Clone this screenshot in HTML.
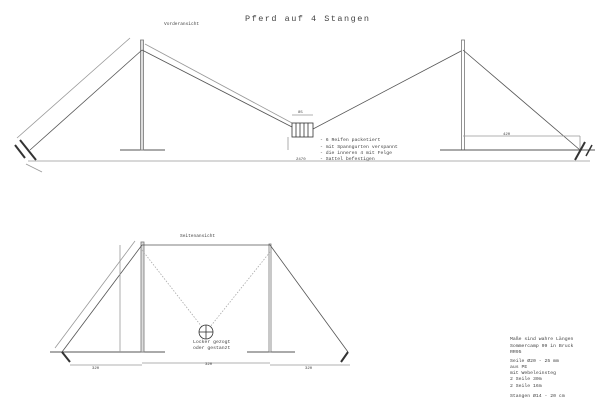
<!DOCTYPE html>
<html><head><style>
html,body{margin:0;padding:0;background:#fff;}
svg{display:block}
text{font-family:"Liberation Mono",monospace;fill:#444;}
</style></head><body>
<svg width="600" height="408" viewBox="0 0 600 408" xmlns="http://www.w3.org/2000/svg">
<g stroke="#555" fill="none" stroke-width="0.8">
<!-- top view -->
<line x1="120" y1="150" x2="165" y2="150" stroke-width="1"/>
<rect x="140.5" y="40" width="3" height="110" stroke="#777" fill="#ddd"/>
<line x1="142" y1="50" x2="30" y2="150"/>
<line x1="142" y1="50" x2="292" y2="127"/>
<line x1="145" y1="44" x2="292" y2="123" stroke="#999"/>
<line x1="130" y1="38" x2="17" y2="138" stroke="#999"/>
<line x1="313" y1="129" x2="463" y2="50"/>
<rect x="292" y="123" width="21" height="14" stroke="#333"/>
<g stroke="#333"><line x1="296" y1="123" x2="296" y2="137"/><line x1="300" y1="123" x2="300" y2="137"/><line x1="304" y1="123" x2="304" y2="137"/><line x1="308" y1="123" x2="308" y2="137"/></g>
<line x1="292" y1="115" x2="313" y2="115" stroke="#999"/>
<line x1="288" y1="137" x2="288" y2="150" stroke="#999"/>
<rect x="461.5" y="40" width="3" height="110" stroke="#777" fill="#fff"/>
<line x1="440" y1="150" x2="595" y2="150" stroke-width="1"/>
<line x1="463" y1="50" x2="580" y2="150"/>
<line x1="463" y1="136" x2="580" y2="136" stroke="#999"/>
<line x1="580" y1="136" x2="580" y2="150" stroke="#999"/>
<line x1="28" y1="161" x2="590" y2="161" stroke="#999"/>
<line x1="20" y1="140" x2="36" y2="160" stroke="#333" stroke-width="2"/>
<line x1="15" y1="145" x2="25" y2="158" stroke="#333" stroke-width="2"/>
<line x1="585" y1="142" x2="575" y2="160" stroke="#333" stroke-width="2"/>
<line x1="592" y1="145" x2="586" y2="156" stroke="#333" stroke-width="1.5"/>
<line x1="26" y1="164" x2="42" y2="172" stroke="#999"/>
<!-- side view -->
<line x1="50" y1="352" x2="165" y2="352" stroke-width="1"/>
<line x1="247" y1="352" x2="295" y2="352" stroke-width="1"/>
<rect x="141" y="242" width="3" height="110" stroke="#777" fill="#ddd"/>
<rect x="269" y="244" width="2" height="108" stroke="#777" fill="#fff"/>
<line x1="142" y1="245" x2="270" y2="245"/>
<line x1="142" y1="245" x2="62" y2="352"/>
<line x1="135" y1="241" x2="55" y2="348" stroke="#999"/>
<line x1="270" y1="245" x2="348" y2="352"/>
<line x1="142" y1="250" x2="202" y2="327" stroke="#aaa" stroke-dasharray="1.5,1.5"/>
<line x1="270" y1="252" x2="210" y2="327" stroke="#aaa" stroke-dasharray="1.5,1.5"/>
<circle cx="206" cy="332" r="7" stroke="#333"/>
<line x1="199" y1="332" x2="213" y2="332" stroke="#333"/>
<line x1="206" y1="325" x2="206" y2="339" stroke="#333"/>
<line x1="120" y1="245" x2="120" y2="352" stroke="#999"/>
<line x1="62" y1="352" x2="70" y2="362" stroke="#333" stroke-width="2"/>
<line x1="348" y1="352" x2="341" y2="362" stroke="#333" stroke-width="2"/>
<line x1="70" y1="365" x2="142" y2="365" stroke="#999"/>
<line x1="142" y1="363" x2="270" y2="363" stroke="#999"/>
<line x1="270" y1="365" x2="350" y2="365" stroke="#999"/>
</g>
<text x="245" y="21" font-size="8.5" letter-spacing="1.5">Pferd auf 4 Stangen</text>
<text x="164" y="25" font-size="4.5">Vorderansicht</text>
<text x="320" y="141" font-size="4.8">- 6 Reifen packetiert</text>
<text x="320" y="148" font-size="4.8">- mit Spanngurten verspannt</text>
<text x="320" y="154" font-size="4.8">- die inneren 4 mit Felge</text>
<text x="320" y="160" font-size="4.8">- Sattel befestigen</text>
<text x="296" y="160" font-size="4">2470</text>
<text x="298" y="113" font-size="4">85</text>
<text x="503" y="135" font-size="4">420</text>
<text x="180" y="237" font-size="4.5">Seitenansicht</text>
<text x="193" y="343" font-size="4.8">Locker gezogt</text>
<text x="193" y="349" font-size="4.8">oder gestanzt</text>
<text x="92" y="369" font-size="4">320</text>
<text x="205" y="365" font-size="4">320</text>
<text x="305" y="369" font-size="4">320</text>
<g font-size="4.8">
<text x="510" y="340">Maße sind wahre Längen</text>
<text x="510" y="347">Sommercamp 99 in Bruck</text>
<text x="510" y="353">RR95</text>
<text x="510" y="362">Seile Ø20 - 25 mm</text>
<text x="510" y="368">aus PE</text>
<text x="510" y="374">mit Webeleinsteg</text>
<text x="510" y="380">2 Seile 30m</text>
<text x="510" y="387">2 Seile 16m</text>
<text x="510" y="397">Stangen Ø14 - 20 cm</text>
</g>
</svg>
</body></html>
